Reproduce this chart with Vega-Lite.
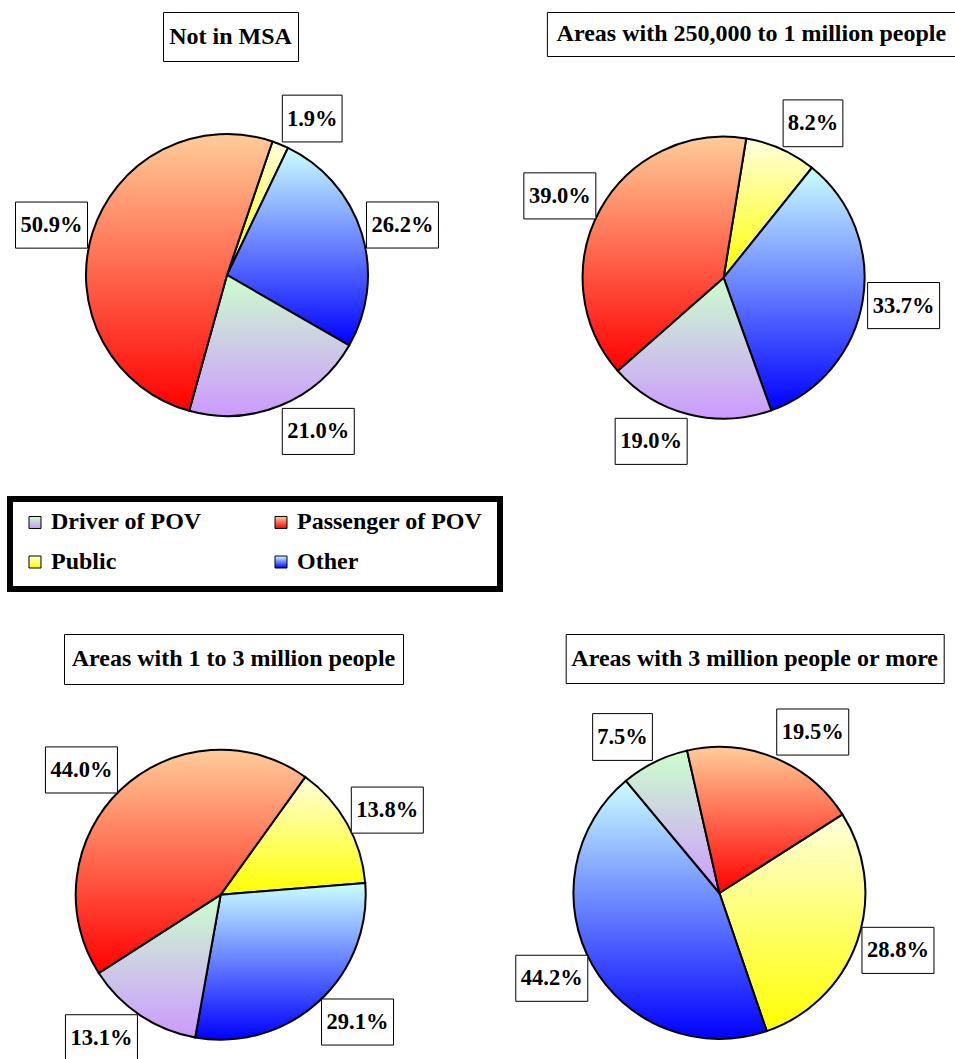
{
  "$schema": "https://vega.github.io/schema/vega-lite/v6.json",
  "padding": {"left": 7, "top": 11, "right": 0, "bottom": 0},
  "spacing": 29,
  "datasets": {
    "d": [
      {"area": "Not in MSA", "mode": "Public", "seq": 1, "pct": 0.019},
      {"area": "Not in MSA", "mode": "Other", "seq": 2, "pct": 0.262},
      {"area": "Not in MSA", "mode": "Driver of POV", "seq": 3, "pct": 0.210},
      {"area": "Not in MSA", "mode": "Passenger of POV", "seq": 4, "pct": 0.509},
      {"area": "Areas with 250,000 to 1 million people", "mode": "Public", "seq": 1, "pct": 0.082},
      {"area": "Areas with 250,000 to 1 million people", "mode": "Other", "seq": 2, "pct": 0.337},
      {"area": "Areas with 250,000 to 1 million people", "mode": "Driver of POV", "seq": 3, "pct": 0.190},
      {"area": "Areas with 250,000 to 1 million people", "mode": "Passenger of POV", "seq": 4, "pct": 0.390},
      {"area": "Areas with 1 to 3 million people", "mode": "Public", "seq": 1, "pct": 0.138},
      {"area": "Areas with 1 to 3 million people", "mode": "Other", "seq": 2, "pct": 0.291},
      {"area": "Areas with 1 to 3 million people", "mode": "Driver of POV", "seq": 3, "pct": 0.131},
      {"area": "Areas with 1 to 3 million people", "mode": "Passenger of POV", "seq": 4, "pct": 0.440},
      {"area": "Areas with 3 million people or more", "mode": "Public", "seq": 1, "pct": 0.288},
      {"area": "Areas with 3 million people or more", "mode": "Other", "seq": 2, "pct": 0.442},
      {"area": "Areas with 3 million people or more", "mode": "Driver of POV", "seq": 3, "pct": 0.075},
      {"area": "Areas with 3 million people or more", "mode": "Passenger of POV", "seq": 4, "pct": 0.195}
    ]
  },
  "vconcat": [
    {
      "hconcat": [
        {
          "vconcat": [
            {
              "width": 135, "height": 49,
              "view": {"stroke": "black", "strokeWidth": 1, "fill": "white"},
              "data": {"name": "d"},
              "transform": [{"filter": "datum.area === 'Not in MSA' && datum.seq === 1"}],
              "mark": {"type": "text", "font": "Liberation Serif", "fontWeight": "bold", "fontSize": 24, "color": "black"},
              "encoding": {"text": {"field": "area", "type": "nominal"}}
            },
            {
              "width": 441, "height": 389,
              "view": {"stroke": null},
              "data": {"name": "d"},
              "transform": [
                {"filter": "datum.area === 'Not in MSA'"},
                {"stack": "pct", "groupby": [], "offset": "normalize", "sort": [{"field": "seq", "order": "ascending"}], "as": ["p0", "p1"]},
                {"calculate": "0.328 + PI * (datum.p0 + datum.p1)", "as": "ang"},
                {"calculate": "146 * sin(datum.ang) + (sin(datum.ang) >= 0 ? 1 : -1) * (datum.pct < 0.1 ? 30 : 36)", "as": "lx"},
                {"calculate": "169 * cos(datum.ang)", "as": "ly"}
              ],
              "layer": [
                {
                  "mark": {"type": "arc", "radius": 141, "stroke": "black", "strokeWidth": 2},
                  "encoding": {
                    "x": {"datum": 0, "type": "quantitative", "scale": {"domain": [-217, 224], "nice": false, "zero": false}, "axis": null},
                    "y": {"datum": 0, "type": "quantitative", "scale": {"domain": [-185, 204], "nice": false, "zero": false}, "axis": null},
                    "theta": {"field": "p0", "type": "quantitative", "scale": {"domain": [0, 1], "range": [0.328, 6.6112]}},
                    "theta2": {"field": "p1"},
                    "fill": {"condition": [
                      {"test": "datum.mode === 'Driver of POV'", "value": {"gradient": "linear", "x1": 0, "y1": 0, "x2": 0, "y2": 1, "stops": [{"offset": 0, "color": "#CCFFCC"}, {"offset": 1, "color": "#CC99FF"}]}},
                      {"test": "datum.mode === 'Public'", "value": {"gradient": "linear", "x1": 0, "y1": 0, "x2": 0, "y2": 1, "stops": [{"offset": 0, "color": "#FFFFDD"}, {"offset": 1, "color": "#FFFF00"}]}},
                      {"test": "datum.mode === 'Other'", "value": {"gradient": "linear", "x1": 0, "y1": 0, "x2": 0, "y2": 1, "stops": [{"offset": 0, "color": "#CCFFFF"}, {"offset": 1, "color": "#0000FF"}]}}
                    ], "value": {"gradient": "linear", "x1": 0, "y1": 0, "x2": 0, "y2": 1, "stops": [{"offset": 0, "color": "#FFCC99"}, {"offset": 1, "color": "#FF0000"}]}}
                  }
                },
                {
                  "mark": {"type": "point", "filled": true, "fill": "white", "stroke": "black", "strokeWidth": 1, "opacity": 1, "size": 5184},
                  "encoding": {
                    "x": {"field": "lx", "type": "quantitative", "scale": {"domain": [-217, 224], "nice": false, "zero": false}, "axis": null},
                    "y": {"field": "ly", "type": "quantitative", "scale": {"domain": [-185, 204], "nice": false, "zero": false}, "axis": null},
                    "shape": {"condition": {"test": "datum.pct < 0.1", "value": "M-0.83,-0.65H0.83V0.65H-0.83Z"}, "value": "M-1,-0.64H1V0.64H-1Z"}
                  }
                },
                {
                  "mark": {"type": "text", "font": "Liberation Serif", "fontWeight": "bold", "fontSize": 22.5, "color": "black", "align": "center", "baseline": "middle"},
                  "encoding": {
                    "x": {"field": "lx", "type": "quantitative", "scale": {"domain": [-217, 224], "nice": false, "zero": false}, "axis": null},
                    "y": {"field": "ly", "type": "quantitative", "scale": {"domain": [-185, 204], "nice": false, "zero": false}, "axis": null},
                    "text": {"field": "pct", "type": "quantitative", "format": ".1%"}
                  }
                }
              ]
            }
          ],
          "spacing": 10, "center": true, "bounds": "flush"
        },
        {
          "vconcat": [
            {
              "width": 409, "height": 44,
              "view": {"stroke": "black", "strokeWidth": 1, "fill": "white"},
              "data": {"name": "d"},
              "transform": [{"filter": "datum.area === 'Areas with 250,000 to 1 million people' && datum.seq === 1"}],
              "mark": {"type": "text", "font": "Liberation Serif", "fontWeight": "bold", "fontSize": 24, "color": "black"},
              "encoding": {"text": {"field": "area", "type": "nominal"}}
            },
            {
              "width": 409, "height": 400,
              "view": {"stroke": null},
              "data": {"name": "d"},
              "transform": [
                {"filter": "datum.area === 'Areas with 250,000 to 1 million people'"},
                {"stack": "pct", "groupby": [], "offset": "normalize", "sort": [{"field": "seq", "order": "ascending"}], "as": ["p0", "p1"]},
                {"calculate": "0.161 + PI * (datum.p0 + datum.p1)", "as": "ang"},
                {"calculate": "146 * sin(datum.ang) + (sin(datum.ang) >= 0 ? 1 : -1) * (datum.pct < 0.1 ? 30 : 36)", "as": "lx"},
                {"calculate": "169 * cos(datum.ang)", "as": "ly"}
              ],
              "layer": [
                {
                  "mark": {"type": "arc", "radius": 141, "stroke": "black", "strokeWidth": 2},
                  "encoding": {
                    "x": {"datum": 0, "type": "quantitative", "scale": {"domain": [-176.7, 232.3], "nice": false, "zero": false}, "axis": null},
                    "y": {"datum": 0, "type": "quantitative", "scale": {"domain": [-188.3, 211.7], "nice": false, "zero": false}, "axis": null},
                    "theta": {"field": "p0", "type": "quantitative", "scale": {"domain": [0, 1], "range": [0.161, 6.4442]}},
                    "theta2": {"field": "p1"},
                    "fill": {"condition": [
                      {"test": "datum.mode === 'Driver of POV'", "value": {"gradient": "linear", "x1": 0, "y1": 0, "x2": 0, "y2": 1, "stops": [{"offset": 0, "color": "#CCFFCC"}, {"offset": 1, "color": "#CC99FF"}]}},
                      {"test": "datum.mode === 'Public'", "value": {"gradient": "linear", "x1": 0, "y1": 0, "x2": 0, "y2": 1, "stops": [{"offset": 0, "color": "#FFFFDD"}, {"offset": 1, "color": "#FFFF00"}]}},
                      {"test": "datum.mode === 'Other'", "value": {"gradient": "linear", "x1": 0, "y1": 0, "x2": 0, "y2": 1, "stops": [{"offset": 0, "color": "#CCFFFF"}, {"offset": 1, "color": "#0000FF"}]}}
                    ], "value": {"gradient": "linear", "x1": 0, "y1": 0, "x2": 0, "y2": 1, "stops": [{"offset": 0, "color": "#FFCC99"}, {"offset": 1, "color": "#FF0000"}]}}
                  }
                },
                {
                  "mark": {"type": "point", "filled": true, "fill": "white", "stroke": "black", "strokeWidth": 1, "opacity": 1, "size": 5184},
                  "encoding": {
                    "x": {"field": "lx", "type": "quantitative", "scale": {"domain": [-176.7, 232.3], "nice": false, "zero": false}, "axis": null},
                    "y": {"field": "ly", "type": "quantitative", "scale": {"domain": [-188.3, 211.7], "nice": false, "zero": false}, "axis": null},
                    "shape": {"condition": {"test": "datum.pct < 0.1", "value": "M-0.83,-0.65H0.83V0.65H-0.83Z"}, "value": "M-1,-0.64H1V0.64H-1Z"}
                  }
                },
                {
                  "mark": {"type": "text", "font": "Liberation Serif", "fontWeight": "bold", "fontSize": 22.5, "color": "black", "align": "center", "baseline": "middle"},
                  "encoding": {
                    "x": {"field": "lx", "type": "quantitative", "scale": {"domain": [-176.7, 232.3], "nice": false, "zero": false}, "axis": null},
                    "y": {"field": "ly", "type": "quantitative", "scale": {"domain": [-188.3, 211.7], "nice": false, "zero": false}, "axis": null},
                    "text": {"field": "pct", "type": "quantitative", "format": ".1%"}
                  }
                }
              ]
            }
          ],
          "spacing": 10, "bounds": "flush"
        }
      ],
      "spacing": 69.9
    },
    {
      "vconcat": [
        {
          "width": 490, "height": 90,
          "view": {"stroke": "black", "strokeWidth": 6, "fill": "white"},
          "data": {"name": "d"},
          "transform": [
            {"filter": "datum.area === 'Not in MSA'"},
            {"calculate": "indexof(['Driver of POV', 'Passenger of POV', 'Public', 'Other'], datum.mode)", "as": "k"},
            {"calculate": "datum.k % 2", "as": "lc"},
            {"calculate": "floor(datum.k / 2)", "as": "lr"}
          ],
          "encoding": {
            "x": {"field": "lc", "type": "quantitative", "scale": {"domain": [-0.1016, 1.8902], "nice": false, "zero": false}, "axis": null},
            "y": {"field": "lr", "type": "quantitative", "scale": {"domain": [-0.5949, 1.6835], "reverse": true, "nice": false, "zero": false}, "axis": null}
          },
          "layer": [
            {
              "mark": {"type": "point", "shape": "square", "size": 144, "filled": true, "stroke": "black", "strokeWidth": 1, "opacity": 1},
              "encoding": {
                "fill": {"condition": [
                  {"test": "datum.mode === 'Driver of POV'", "value": {"gradient": "linear", "x1": 0, "y1": 0, "x2": 0, "y2": 1, "stops": [{"offset": 0, "color": "#CCFFCC"}, {"offset": 1, "color": "#CC99FF"}]}},
                  {"test": "datum.mode === 'Public'", "value": {"gradient": "linear", "x1": 0, "y1": 0, "x2": 0, "y2": 1, "stops": [{"offset": 0, "color": "#FFFFDD"}, {"offset": 1, "color": "#FFFF00"}]}},
                  {"test": "datum.mode === 'Other'", "value": {"gradient": "linear", "x1": 0, "y1": 0, "x2": 0, "y2": 1, "stops": [{"offset": 0, "color": "#CCFFFF"}, {"offset": 1, "color": "#0000FF"}]}}
                ], "value": {"gradient": "linear", "x1": 0, "y1": 0, "x2": 0, "y2": 1, "stops": [{"offset": 0, "color": "#FFCC99"}, {"offset": 1, "color": "#FF0000"}]}}
              }
            },
            {
              "mark": {"type": "text", "align": "left", "baseline": "middle", "dx": 16, "font": "Liberation Serif", "fontWeight": "bold", "fontSize": 24, "color": "black"},
              "encoding": {"text": {"field": "mode", "type": "nominal"}}
            }
          ]
        },
        {
          "hconcat": [
            {
              "vconcat": [
                {
                  "width": 339, "height": 50,
                  "view": {"stroke": "black", "strokeWidth": 1, "fill": "white"},
                  "data": {"name": "d"},
                  "transform": [{"filter": "datum.area === 'Areas with 1 to 3 million people' && datum.seq === 1"}],
                  "mark": {"type": "text", "font": "Liberation Serif", "fontWeight": "bold", "fontSize": 24, "color": "black"},
                  "encoding": {"text": {"field": "area", "type": "nominal"}}
                },
                {
                  "width": 447, "height": 368,
                  "view": {"stroke": null},
                  "data": {"name": "d"},
                  "transform": [
                    {"filter": "datum.area === 'Areas with 1 to 3 million people'"},
                    {"stack": "pct", "groupby": [], "offset": "normalize", "sort": [{"field": "seq", "order": "ascending"}], "as": ["p0", "p1"]},
                    {"calculate": "0.623 + PI * (datum.p0 + datum.p1)", "as": "ang"},
                    {"calculate": "150 * sin(datum.ang) + (sin(datum.ang) >= 0 ? 1 : -1) * (datum.pct < 0.1 ? 30 : 36)", "as": "lx"},
                    {"calculate": "172 * cos(datum.ang)", "as": "ly"}
                  ],
                  "layer": [
                    {
                      "mark": {"type": "arc", "radius": 145, "stroke": "black", "strokeWidth": 2},
                      "encoding": {
                        "x": {"datum": 0, "type": "quantitative", "scale": {"domain": [-210.7, 236.3], "nice": false, "zero": false}, "axis": null},
                        "y": {"datum": 0, "type": "quantitative", "scale": {"domain": [-167.3, 200.7], "nice": false, "zero": false}, "axis": null},
                        "theta": {"field": "p0", "type": "quantitative", "scale": {"domain": [0, 1], "range": [0.623, 6.9062]}},
                        "theta2": {"field": "p1"},
                        "fill": {"condition": [
                          {"test": "datum.mode === 'Driver of POV'", "value": {"gradient": "linear", "x1": 0, "y1": 0, "x2": 0, "y2": 1, "stops": [{"offset": 0, "color": "#CCFFCC"}, {"offset": 1, "color": "#CC99FF"}]}},
                          {"test": "datum.mode === 'Public'", "value": {"gradient": "linear", "x1": 0, "y1": 0, "x2": 0, "y2": 1, "stops": [{"offset": 0, "color": "#FFFFDD"}, {"offset": 1, "color": "#FFFF00"}]}},
                          {"test": "datum.mode === 'Other'", "value": {"gradient": "linear", "x1": 0, "y1": 0, "x2": 0, "y2": 1, "stops": [{"offset": 0, "color": "#CCFFFF"}, {"offset": 1, "color": "#0000FF"}]}}
                        ], "value": {"gradient": "linear", "x1": 0, "y1": 0, "x2": 0, "y2": 1, "stops": [{"offset": 0, "color": "#FFCC99"}, {"offset": 1, "color": "#FF0000"}]}}
                      }
                    },
                    {
                      "mark": {"type": "point", "filled": true, "fill": "white", "stroke": "black", "strokeWidth": 1, "opacity": 1, "size": 5184},
                      "encoding": {
                        "x": {"field": "lx", "type": "quantitative", "scale": {"domain": [-210.7, 236.3], "nice": false, "zero": false}, "axis": null},
                        "y": {"field": "ly", "type": "quantitative", "scale": {"domain": [-167.3, 200.7], "nice": false, "zero": false}, "axis": null},
                        "shape": {"condition": {"test": "datum.pct < 0.1", "value": "M-0.83,-0.65H0.83V0.65H-0.83Z"}, "value": "M-1,-0.64H1V0.64H-1Z"}
                      }
                    },
                    {
                      "mark": {"type": "text", "font": "Liberation Serif", "fontWeight": "bold", "fontSize": 22.5, "color": "black", "align": "center", "baseline": "middle"},
                      "encoding": {
                        "x": {"field": "lx", "type": "quantitative", "scale": {"domain": [-210.7, 236.3], "nice": false, "zero": false}, "axis": null},
                        "y": {"field": "ly", "type": "quantitative", "scale": {"domain": [-167.3, 200.7], "nice": false, "zero": false}, "axis": null},
                        "text": {"field": "pct", "type": "quantitative", "format": ".1%"}
                      }
                    }
                  ]
                }
              ],
              "spacing": 10, "center": true, "bounds": "flush"
            },
            {
              "vconcat": [
                {
                  "width": 378, "height": 49,
                  "view": {"stroke": "black", "strokeWidth": 1, "fill": "white"},
                  "data": {"name": "d"},
                  "transform": [{"filter": "datum.area === 'Areas with 3 million people or more' && datum.seq === 1"}],
                  "mark": {"type": "text", "font": "Liberation Serif", "fontWeight": "bold", "fontSize": 24, "color": "black"},
                  "encoding": {"text": {"field": "area", "type": "nominal"}}
                },
                {
                  "width": 378, "height": 369,
                  "view": {"stroke": null},
                  "data": {"name": "d"},
                  "transform": [
                    {"filter": "datum.area === 'Areas with 3 million people or more'"},
                    {"stack": "pct", "groupby": [], "offset": "normalize", "sort": [{"field": "seq", "order": "ascending"}], "as": ["p0", "p1"]},
                    {"calculate": "1.002 + PI * (datum.p0 + datum.p1)", "as": "ang"},
                    {"calculate": "151 * sin(datum.ang) + (sin(datum.ang) >= 0 ? 1 : -1) * (datum.pct < 0.1 ? 30 : 36)", "as": "lx"},
                    {"calculate": "174 * cos(datum.ang)", "as": "ly"}
                  ],
                  "layer": [
                    {
                      "mark": {"type": "arc", "radius": 146, "stroke": "black", "strokeWidth": 2},
                      "encoding": {
                        "x": {"datum": 0, "type": "quantitative", "scale": {"domain": [-153.7, 224.3], "nice": false, "zero": false}, "axis": null},
                        "y": {"datum": 0, "type": "quantitative", "scale": {"domain": [-169, 200], "nice": false, "zero": false}, "axis": null},
                        "theta": {"field": "p0", "type": "quantitative", "scale": {"domain": [0, 1], "range": [1.002, 7.2852]}},
                        "theta2": {"field": "p1"},
                        "fill": {"condition": [
                          {"test": "datum.mode === 'Driver of POV'", "value": {"gradient": "linear", "x1": 0, "y1": 0, "x2": 0, "y2": 1, "stops": [{"offset": 0, "color": "#CCFFCC"}, {"offset": 1, "color": "#CC99FF"}]}},
                          {"test": "datum.mode === 'Public'", "value": {"gradient": "linear", "x1": 0, "y1": 0, "x2": 0, "y2": 1, "stops": [{"offset": 0, "color": "#FFFFDD"}, {"offset": 1, "color": "#FFFF00"}]}},
                          {"test": "datum.mode === 'Other'", "value": {"gradient": "linear", "x1": 0, "y1": 0, "x2": 0, "y2": 1, "stops": [{"offset": 0, "color": "#CCFFFF"}, {"offset": 1, "color": "#0000FF"}]}}
                        ], "value": {"gradient": "linear", "x1": 0, "y1": 0, "x2": 0, "y2": 1, "stops": [{"offset": 0, "color": "#FFCC99"}, {"offset": 1, "color": "#FF0000"}]}}
                      }
                    },
                    {
                      "mark": {"type": "point", "filled": true, "fill": "white", "stroke": "black", "strokeWidth": 1, "opacity": 1, "size": 5184},
                      "encoding": {
                        "x": {"field": "lx", "type": "quantitative", "scale": {"domain": [-153.7, 224.3], "nice": false, "zero": false}, "axis": null},
                        "y": {"field": "ly", "type": "quantitative", "scale": {"domain": [-169, 200], "nice": false, "zero": false}, "axis": null},
                        "shape": {"condition": {"test": "datum.pct < 0.1", "value": "M-0.83,-0.65H0.83V0.65H-0.83Z"}, "value": "M-1,-0.64H1V0.64H-1Z"}
                      }
                    },
                    {
                      "mark": {"type": "text", "font": "Liberation Serif", "fontWeight": "bold", "fontSize": 22.5, "color": "black", "align": "center", "baseline": "middle"},
                      "encoding": {
                        "x": {"field": "lx", "type": "quantitative", "scale": {"domain": [-153.7, 224.3], "nice": false, "zero": false}, "axis": null},
                        "y": {"field": "ly", "type": "quantitative", "scale": {"domain": [-169, 200], "nice": false, "zero": false}, "axis": null},
                        "text": {"field": "pct", "type": "quantitative", "format": ".1%"}
                      }
                    }
                  ]
                }
              ],
              "spacing": 10, "bounds": "flush"
            }
          ],
          "spacing": 56.7
        }
      ],
      "spacing": 41
    }
  ]
}
